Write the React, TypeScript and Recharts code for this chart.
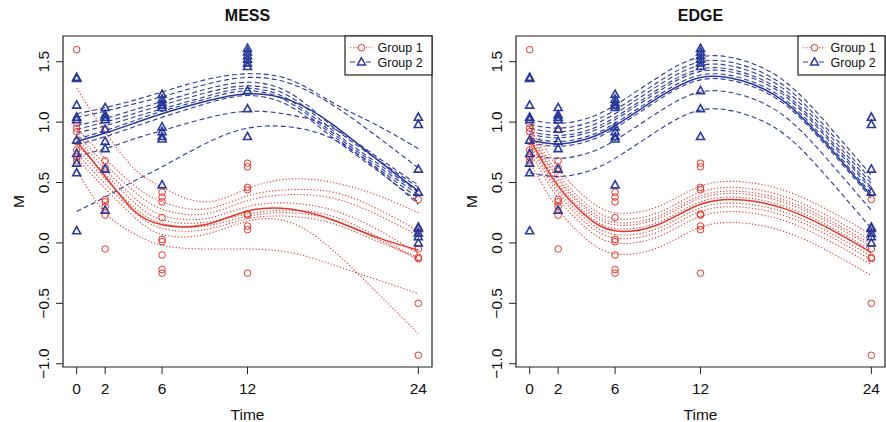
import React from "react";
import { ComposedChart, Line, Scatter, XAxis, YAxis, ReferenceArea } from "recharts";

const RED = "#e3362b";
const BLUE = "#2a3a9b";
const FONT = "'Liberation Sans', Arial, Helvetica, sans-serif";

const curveTimes = [0, 2, 4, 6, 9, 12, 15, 18, 21, 24];
const xTicks = [0, 2, 6, 12, 24];
const yTicks = [-1, -0.5, 0, 0.5, 1, 1.5];

// observed values, group 1 (circles)
const g1At0 = [1.6, 0.99, 0.95, 0.92, 0.84, 0.77, 0.71, 0.68];
const g1At2 = [0.94, 0.68, 0.62, 0.36, 0.34, 0.3, 0.23, -0.05];
const g1At6 = [0.42, 0.38, 0.34, 0.21, 0.03, 0.01, -0.1, -0.22, -0.25];
const g1At12 = [0.66, 0.63, 0.46, 0.44, 0.24, 0.23, 0.14, 0.11, -0.25];
const g1At24 = [0.36, 0.1, -0.05, -0.12, -0.13, -0.5, -0.93];

// observed values, group 2 (triangles)
const g2At0 = [1.37, 1.36, 1.14, 1.04, 1.02, 0.85, 0.74, 0.66, 0.58, 0.1];
const g2At2 = [1.12, 1.06, 1.04, 1.02, 0.94, 0.84, 0.78, 0.61, 0.27];
const g2At6 = [1.23, 1.19, 1.16, 1.14, 1.12, 0.96, 0.92, 0.88, 0.86, 0.48];
const g2At12 = [1.61, 1.58, 1.55, 1.52, 1.49, 1.46, 1.26, 1.11, 0.88];
const g2At24 = [1.04, 0.98, 0.61, 0.42, 0.13, 0.12, 0.08, 0.05, 0.0];

// MESS fits
const messG1Mean = [0.84, 0.55, 0.27, 0.15, 0.15, 0.265, 0.28, 0.19, 0.05, -0.06];
const messG1Subjects = [
  [1.28, 0.92, 0.62, 0.46, 0.34, 0.45, 0.53, 0.5, 0.4, 0.25],
  [0.95, 0.7, 0.48, 0.34, 0.28, 0.39, 0.44, 0.42, 0.29, 0.1],
  [0.9, 0.65, 0.43, 0.28, 0.24, 0.35, 0.4, 0.37, 0.24, 0.06],
  [0.87, 0.61, 0.38, 0.23, 0.2, 0.3, 0.33, 0.27, 0.12, -0.09],
  [0.82, 0.57, 0.34, 0.19, 0.17, 0.24, 0.27, 0.22, 0.06, -0.13],
  [0.78, 0.53, 0.3, 0.16, 0.14, 0.22, 0.25, 0.19, 0.04, -0.14],
  [0.74, 0.49, 0.26, 0.12, 0.11, 0.2, 0.22, 0.16, 0.02, -0.12],
  [0.7, 0.45, 0.22, 0.07, 0.07, 0.18, 0.17, -0.06, -0.4, -0.75],
  [0.6, 0.25, 0.08, -0.02, -0.05, -0.05, -0.08, -0.18, -0.3, -0.42],
];
const messG2Mean = [0.84, 0.91, 0.99, 1.07, 1.17, 1.235, 1.18, 0.98, 0.7, 0.43];
const messG2Subjects = [
  [1.07, 1.12, 1.18, 1.25, 1.35, 1.4, 1.35, 1.16, 0.98, 0.78],
  [1.04, 1.09, 1.15, 1.21, 1.31, 1.37, 1.32, 1.14, 0.89, 0.62],
  [0.97, 1.03, 1.1, 1.17, 1.27, 1.33, 1.24, 0.96, 0.7, 0.46],
  [0.94, 1.0, 1.07, 1.14, 1.24, 1.3, 1.21, 0.93, 0.67, 0.42],
  [0.91, 0.97, 1.04, 1.11, 1.21, 1.28, 1.18, 0.91, 0.65, 0.4],
  [0.86, 0.93, 1.01, 1.09, 1.19, 1.26, 1.16, 0.89, 0.63, 0.37],
  [0.81, 0.88, 0.96, 1.04, 1.15, 1.22, 1.13, 0.87, 0.61, 0.34],
  [0.72, 0.78, 0.86, 0.93, 1.03, 1.09, 1.06, 0.95, 0.72, 0.48],
  [0.26, 0.38, 0.51, 0.63, 0.82, 0.95, 0.96, 0.86, 0.62, 0.32],
];

// EDGE fits
const edgeG1Mean = [0.86, 0.47, 0.22, 0.1, 0.15, 0.32, 0.355, 0.28, 0.12, -0.08];
const edgeG1Subjects = [
  [1.01, 0.62, 0.37, 0.25, 0.3, 0.47, 0.505, 0.43, 0.27, 0.07],
  [0.96, 0.57, 0.32, 0.2, 0.25, 0.42, 0.455, 0.38, 0.22, 0.02],
  [0.93, 0.54, 0.29, 0.17, 0.22, 0.39, 0.425, 0.35, 0.19, -0.01],
  [0.91, 0.52, 0.27, 0.15, 0.2, 0.37, 0.405, 0.33, 0.17, -0.03],
  [0.88, 0.49, 0.24, 0.12, 0.17, 0.34, 0.375, 0.3, 0.14, -0.06],
  [0.83, 0.44, 0.19, 0.07, 0.12, 0.29, 0.325, 0.25, 0.09, -0.11],
  [0.8, 0.41, 0.16, 0.04, 0.09, 0.26, 0.295, 0.22, 0.06, -0.14],
  [0.76, 0.37, 0.12, 0.0, 0.05, 0.22, 0.255, 0.18, 0.02, -0.18],
  [0.67, 0.28, 0.03, -0.09, -0.04, 0.13, 0.165, 0.09, -0.07, -0.27],
];
const edgeG2Mean = [0.85, 0.82, 0.86, 0.97, 1.2, 1.37, 1.34, 1.16, 0.8, 0.39];
const edgeG2Subjects = [
  [1.02, 0.99, 1.03, 1.14, 1.37, 1.54, 1.51, 1.33, 0.97, 0.56],
  [0.98, 0.95, 0.99, 1.1, 1.33, 1.5, 1.47, 1.29, 0.93, 0.52],
  [0.95, 0.92, 0.96, 1.07, 1.3, 1.47, 1.44, 1.26, 0.9, 0.49],
  [0.92, 0.89, 0.93, 1.04, 1.27, 1.44, 1.41, 1.23, 0.87, 0.46],
  [0.9, 0.87, 0.91, 1.02, 1.25, 1.42, 1.39, 1.21, 0.85, 0.44],
  [0.87, 0.84, 0.88, 0.99, 1.22, 1.39, 1.36, 1.18, 0.82, 0.41],
  [0.83, 0.8, 0.84, 0.95, 1.18, 1.35, 1.32, 1.14, 0.78, 0.37],
  [0.73, 0.7, 0.74, 0.85, 1.08, 1.25, 1.22, 1.04, 0.68, 0.27],
  [0.58, 0.55, 0.59, 0.7, 0.93, 1.1, 1.07, 0.89, 0.53, 0.12],
];

const toPoints = (cols: number[][]) =>
  xTicks.flatMap((t, i) => cols[i].map((v) => ({ t, v })));
const g1Points = toPoints([g1At0, g1At2, g1At6, g1At12, g1At24]);
const g2Points = toPoints([g2At0, g2At2, g2At6, g2At12, g2At24]);

function buildRows(m1: number[], s1: number[][], m2: number[], s2: number[][]) {
  return curveTimes.map((t, i) => {
    const row: Record<string, number> = { t, m1: m1[i], m2: m2[i] };
    s1.forEach((s, k) => (row["a" + k] = s[i]));
    s2.forEach((s, k) => (row["b" + k] = s[i]));
    return row;
  });
}

const fmt = (v: number) => (v < 0 ? "\u2212" + Math.abs(v).toFixed(1) : v.toFixed(1));

const W = 443;
const H = 422;
const TOP = 36;
const XAXIS_H = 55;
const Y_MIN = -1.027;
const Y_MAX = 1.713;

const Circle = (p: any) => (
  <circle cx={p.cx} cy={p.cy} r={3.3} fill="none" stroke={RED} strokeWidth={1} />
);
const Tri = (p: any) => (
  <polygon
    points={`${p.cx},${p.cy - 4.3} ${p.cx - 4},${p.cy + 2.9} ${p.cx + 4},${p.cy + 2.9}`}
    fill="none"
    stroke={BLUE}
    strokeWidth={1.6}
  />
);

const YTick = (p: any) => (
  <text
    x={p.x}
    y={p.y}
    transform={`rotate(-90 ${p.x} ${p.y})`}
    textAnchor="middle"
    fontSize={15.5}
    fontFamily={FONT}
    fill="#111"
  >
    {fmt(p.payload.value)}
  </text>
);
const XTick = (p: any) => (
  <text x={p.x} y={p.y + 11} textAnchor="middle" fontSize={15.5} fontFamily={FONT} fill="#111">
    {p.payload.value}
  </text>
);

type PanelProps = {
  title: string;
  yAxisW: number;
  rightGap: number;
  rows: Record<string, number>[];
  n1: number;
  n2: number;
};

function Panel({ title, yAxisW, rightGap, rows, n1, n2 }: PanelProps) {
  const plotLeft = yAxisW;
  const plotRight = W - rightGap;
  const cx = (plotLeft + plotRight) / 2;
  const cy = (TOP + (H - XAXIS_H)) / 2;
  const lg = plotRight - 87;
  return (
    <div style={{ position: "relative", width: W, height: H }}>
      <ComposedChart
        width={W}
        height={H}
        data={rows}
        margin={{ top: TOP, right: rightGap, bottom: 0, left: 0 }}
      >
        <XAxis
          dataKey="t"
          type="number"
          domain={[-0.96, 24.96]}
          ticks={xTicks}
          allowDataOverflow
          height={XAXIS_H}
          tickSize={7}
          tickMargin={9}
          axisLine={false}
          tickLine={{ stroke: "#222" }}
          tick={<XTick />}
        />
        <YAxis
          type="number"
          domain={[Y_MIN, Y_MAX]}
          ticks={yTicks}
          allowDataOverflow
          width={yAxisW}
          tickSize={7}
          tickMargin={7}
          axisLine={false}
          tickLine={{ stroke: "#222" }}
          tick={<YTick />}
        />
        <ReferenceArea
          x1={-0.96}
          x2={24.96}
          y1={Y_MIN}
          y2={Y_MAX}
          fill="none"
          stroke="#222"
          strokeWidth={1.2}
          ifOverflow="visible"
        />
        {Array.from({ length: n1 }, (_, k) => (
          <Line
            key={"a" + k}
            dataKey={"a" + k}
            type="natural"
            stroke={RED}
            strokeWidth={1.1}
            strokeDasharray="1.2 2"
            dot={false}
            activeDot={false}
            isAnimationActive={false}
          />
        ))}
        {Array.from({ length: n2 }, (_, k) => (
          <Line
            key={"b" + k}
            dataKey={"b" + k}
            type="natural"
            stroke={BLUE}
            strokeWidth={1.1}
            strokeDasharray="5 3"
            dot={false}
            activeDot={false}
            isAnimationActive={false}
          />
        ))}
        <Line dataKey="m1" type="natural" stroke={RED} strokeWidth={1.5} dot={false} activeDot={false} isAnimationActive={false} />
        <Line dataKey="m2" type="natural" stroke={BLUE} strokeWidth={1.5} dot={false} activeDot={false} isAnimationActive={false} />
        <Scatter data={g1Points} dataKey="v" shape={Circle} isAnimationActive={false} />
        <Scatter data={g2Points} dataKey="v" shape={Tri} isAnimationActive={false} />
      </ComposedChart>
      <svg
        width={W}
        height={H}
        style={{ position: "absolute", left: 0, top: 0, pointerEvents: "none" }}
        fontFamily={FONT}
      >
        <text x={cx} y={20.7} textAnchor="middle" fontSize={16} fontWeight="bold" fill="#111">
          {title}
        </text>
        <text x={cx} y={420} textAnchor="middle" fontSize={15.5} fill="#111">
          Time
        </text>
        <text
          x={plotLeft - 39.5}
          y={cy}
          transform={`rotate(-90 ${plotLeft - 39.5} ${cy})`}
          textAnchor="middle"
          fontSize={15.5}
          fill="#111"
        >
          M
        </text>
        <rect x={lg} y={TOP} width={87} height={39} fill="#fff" stroke="#222" strokeWidth={1.2} />
        <line x1={lg + 5} x2={lg + 28} y1={47.7} y2={47.7} stroke={RED} strokeWidth={1.1} strokeDasharray="1.2 2" />
        <circle cx={lg + 16.5} cy={47.7} r={3.3} fill="#fff" stroke={RED} strokeWidth={1} />
        <text x={lg + 32.5} y={52.2} fontSize={12.5} fill="#111">
          Group 1
        </text>
        <line x1={lg + 5} x2={lg + 28} y1={62} y2={62} stroke={BLUE} strokeWidth={1.1} strokeDasharray="5 3" />
        <polygon
          points={`${lg + 16.5},${62 - 4.3} ${lg + 12.5},${62 + 2.9} ${lg + 20.5},${62 + 2.9}`}
          fill="#fff"
          stroke={BLUE}
          strokeWidth={1.5}
        />
        <text x={lg + 32.5} y={66.5} fontSize={12.5} fill="#111">
          Group 2
        </text>
      </svg>
    </div>
  );
}

const messRows = buildRows(messG1Mean, messG1Subjects, messG2Mean, messG2Subjects);
const edgeRows = buildRows(edgeG1Mean, edgeG1Subjects, edgeG2Mean, edgeG2Subjects);

export default function App() {
  return (
    <div style={{ position: "absolute", left: 0, top: 0, width: 886, height: 422, display: "flex", background: "#fff" }}>
      <Panel title="MESS" yAxisW={63} rightGap={11} rows={messRows} n1={messG1Subjects.length} n2={messG2Subjects.length} />
      <Panel title="EDGE" yAxisW={73} rightGap={1} rows={edgeRows} n1={edgeG1Subjects.length} n2={edgeG2Subjects.length} />
    </div>
  );
}
